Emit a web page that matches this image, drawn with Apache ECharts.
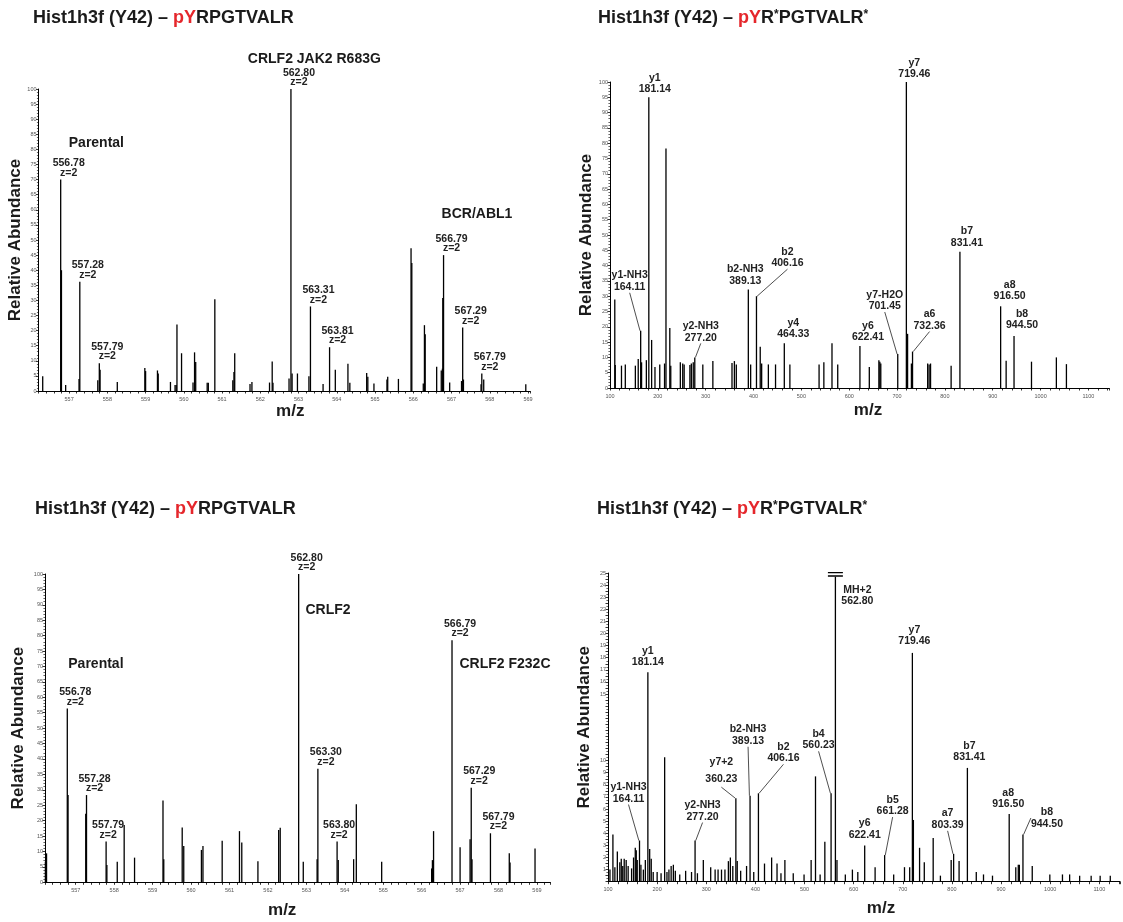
<!DOCTYPE html>
<html>
<head>
<meta charset="utf-8">
<script src="https://cdn.jsdelivr.net/npm/echarts@6/dist/echarts.min.js"></script>
<style>
  html, body { margin: 0; background: #fff; }
  #chart { width: 1123px; height: 922px; }
</style>
</head>
<body>
<div id="chart"></div>
<script>
// Four MS spectra (pYRPGTVALR precursor scans + MS2 fragment spectra)
var FONT = "'Liberation Sans', Arial, Helvetica, sans-serif";

// ---------------- top-left: precursor scan, CRLF2 JAK2 R683G vs BCR/ABL1 ----------------
var tlMz = [556.31, 556.78, 556.80, 556.91, 557.26, 557.28, 557.75, 557.79, 557.81, 558.26,
  558.98, 559.00, 559.31, 559.33, 559.65, 559.77, 559.80, 559.82, 559.94, 560.24,
  560.28, 560.31, 560.61, 560.64, 560.81, 561.28, 561.31, 561.33, 561.73, 561.78,
  562.24, 562.31, 562.33, 562.75, 562.80, 562.83, 562.97, 563.27, 563.31, 563.64,
  563.81, 563.96, 564.29, 564.34, 564.78, 564.81, 564.97, 565.31, 565.33, 565.61,
  565.94, 565.96, 566.26, 566.29, 566.31, 566.61, 566.73, 566.76, 566.77, 566.79,
  566.95, 567.26, 567.29, 567.31, 567.77, 567.79, 567.84, 568.94];
var tlAb = [4.9, 70, 40, 2, 4, 36.2, 3.6, 9.2, 7, 3,
  7.6, 6.6, 6.8, 5.8, 3, 2, 2, 22, 12.5, 2.8,
  12.8, 9.6, 2.7, 2.7, 30.4, 3.6, 6.3, 12.5, 2.3, 3,
  2.8, 9.8, 2.7, 4.1, 100, 5.8, 5.8, 4.9, 28, 2.3,
  14.5, 7, 9, 2.7, 6, 4.7, 2.5, 3.8, 4.7, 4,
  47.3, 42.4, 2.5, 21.8, 18.8, 8, 6.8, 7.4, 30.8, 45,
  2.8, 3.3, 21, 3.8, 2.2, 5.8, 3.8, 2.2];
var tlTags = [556.78, 557.28, 557.79, 562.80, 563.31, 563.81, 566.79, 567.29, 567.79];
var tlNotes = [[562.80, 100, "CRLF2 JAK2 R683G"], [556.78, 70, "Parental"], [566.79, 45, "BCR/ABL1"]];

// ---------------- bottom-left: precursor scan, CRLF2 vs CRLF2 F232C ----------------
var blMz = [556.21, 556.24, 556.78, 556.80, 557.26, 557.28, 557.79, 557.81, 558.08, 558.26,
  558.53, 559.27, 559.29, 559.77, 559.81, 560.27, 560.31, 560.81, 561.26, 561.32,
  561.74, 562.28, 562.32, 562.80, 562.92, 563.28, 563.30, 563.80, 563.83, 564.23,
  564.30, 564.96, 566.26, 566.28, 566.31, 566.79, 567.00, 567.26, 567.29, 567.31,
  567.79, 568.28, 568.30, 568.95];
var blAb = [6.7, 9.4, 56.4, 28.3, 22.2, 28.3, 13.2, 5.6, 6.7, 18.6,
  8, 26.5, 7.5, 17.8, 11.8, 10.5, 11.8, 13.5, 16.6, 12.9,
  6.8, 17, 17.7, 100, 6.7, 7.5, 36.8, 13.2, 7.2, 7.5,
  25.3, 6.7, 4.5, 7.2, 16.6, 78.5, 11.4, 14, 30.7, 7.5,
  15.9, 9.4, 6.4, 11];
var blTags = [556.78, 557.28, 557.79, 562.80, 563.30, 563.80, 566.79, 567.29, 567.79];
var blNotes = [[562.80, 100, "CRLF2"], [566.79, 78.5, "CRLF2 F232C"], [556.78, 56.4, "Parental"]];

// ---------------- top-right: MS2 of pYR*PGTVALR* ----------------
var trMz = [110, 111, 124, 132, 153, 159, 164.11, 166, 176, 181.14,
  187, 194, 204, 214, 217, 225, 227, 247, 252, 255,
  267, 270, 274, 277.20, 294, 315, 355, 360, 364, 389.13,
  394, 406.16, 414, 417, 431, 446, 464.33, 476, 537, 547,
  564, 576, 622.41, 642, 662, 664, 666, 701.45, 719.46, 722,
  730, 732.36, 764, 767, 770, 813, 831.41, 916.50, 928, 944.50,
  981, 1033, 1054];
var trAb = [28.9, 7.5, 7.3, 7.7, 7.3, 9.5, 18.7, 8.4, 9.1, 95,
  15.7, 6.9, 7.7, 8, 78.3, 19.6, 7.3, 8.4, 8, 7.7,
  7.5, 8, 8.4, 10, 7.7, 8.8, 8.2, 8.8, 7.7, 32.2,
  7.7, 30, 13.5, 8, 7.7, 7.7, 14.6, 7.7, 7.7, 8.4,
  14.6, 7.7, 13.7, 6.9, 9.1, 8.6, 8, 11.1, 100, 17.7,
  8, 11.9, 8, 7.7, 8, 7.3, 44.5, 26.7, 8.9, 17,
  8.6, 10, 7.8];
var trIons = [[164.11, "y1-NH3", "164.11"], [181.14, "y1", "181.14"], [277.20, "y2-NH3", "277.20"],
  [389.13, "b2-NH3", "389.13"], [406.16, "b2", "406.16"], [464.33, "y4", "464.33"],
  [622.41, "y6", "622.41"], [701.45, "y7-H2O", "701.45"], [719.46, "y7", "719.46"],
  [732.36, "a6", "732.36"], [831.41, "b7", "831.41"], [916.50, "a8", "916.50"],
  [944.50, "b8", "944.50"]];

// ---------------- bottom-right: MS2 with precursor still present (broken y scale) ----------------
var brMz = [104, 110, 114, 119, 124, 127, 130, 133, 137, 141,
  148, 152, 155.5, 157.5, 159.5, 164.11, 167, 172, 176, 181.14,
  184.8, 188, 192, 200, 208, 215.3, 220, 224, 228.5, 233,
  237, 246, 258, 270, 277.20, 282, 294, 309, 318, 324,
  331, 338, 345, 349, 354, 360.23, 363, 370, 382, 389.13,
  396.6, 406.16, 418.5, 433, 444, 452, 460, 477, 499, 513.4,
  522.3, 531.7, 541.3, 554, 562.80, 566, 583, 597.4, 608.4, 622.41,
  643.6, 663, 681.4, 703.4, 714, 719.46, 721.5, 734.1, 743.7, 761.8,
  776.5, 798.4, 803.39, 814.5, 831.41, 849.5, 864.2, 882.5, 916.50, 929.9,
  935, 937.2, 944.50, 963.4, 999.2, 1024.9, 1039.5, 1059.9, 1083.3, 1101.6,
  1122.2];
var brAb = [1.0, 3.9, 1.2, 2.5, 1.6, 1.9, 1.3, 1.9, 1.8, 1.3,
  1.1, 2.0, 2.8, 2.6, 1.8, 3.4, 1.4, 1.0, 1.8, 16.8,
  2.7, 1.9, 0.8, 0.8, 0.7, 10.25, 0.8, 1.0, 1.3, 1.4,
  0.9, 0.6, 0.9, 0.8, 3.4, 0.7, 1.8, 1.2, 1.0, 1.0,
  1.0, 1.0, 1.7, 2.0, 1.3, 6.9, 1.7, 0.9, 1.3, 7.1,
  0.8, 7.3, 1.5, 2.0, 1.5, 0.7, 1.8, 0.7, 0.6, 1.8,
  8.7, 0.6, 3.3, 7.3, 100, 1.8, 0.6, 1.0, 0.8, 3.0,
  1.2, 2.2, 0.6, 1.2, 1.2, 18.4, 5.1, 2.8, 1.6, 3.6,
  0.5, 1.8, 2.3, 1.7, 9.4, 0.8, 0.6, 0.5, 5.6, 1.2,
  1.4, 1.4, 3.9, 1.3, 0.6, 0.6, 0.6, 0.5, 0.5, 0.5,
  0.5];
var brIons = [[164.11, "y1-NH3", "164.11"], [181.14, "y1", "181.14"], [277.20, "y2-NH3", "277.20"],
  [360.23, "y7+2", "360.23"], [389.13, "b2-NH3", "389.13"], [406.16, "b2", "406.16"],
  [554, "b4", "560.23"], [562.80, "MH+2", "562.80"], [622.41, "y6", "622.41"],
  [663, "b5", "661.28"], [719.46, "y7", "719.46"], [803.39, "a7", "803.39"],
  [831.41, "b7", "831.41"], [916.50, "a8", "916.50"], [944.50, "b8", "944.50"]];
var brLowTicks = [1, 2, 3, 4, 5, 6, 7, 8, 9, 10];
var brHighTicks = [15, 16, 17, 18, 19, 20, 21, 22, 23, 24, 25];

// ---------------- label placement (px offsets from peak top: dx, dy, leader line, line height) ----------------
var tlLay = {};
var blLay = { "557.79": [2, -1], "563.80": [2, -1] };
var trLay = {
  "164.11": [-11, -37, 1], "181.14": [6, -1], "277.20": [6, -13, 1], "389.13": [-3, -2],
  "406.16": [31, -26, 1], "464.33": [9, -2], "622.41": [8, -2], "701.45": [-13, -41, 1],
  "719.46": [8, -1], "732.36": [17, -19, 1], "831.41": [7, -2], "916.50": [9, -3], "944.50": [8, -4]
};
var brLay = {
  "164.11": [-11, -35, 1], "181.14": [0, -3], "277.20": [7.5, -17, 1], "360.23": [-14.5, -10, 1, 16.5],
  "389.13": [-2, -48, 1], "406.16": [25, -28, 1], "554.00": [-12.5, -41, 1], "562.80": [22, 31],
  "622.41": [0, -4], "663.00": [8, -37, 1], "719.46": [2, -5], "803.39": [-6, -22, 1],
  "831.41": [2, -4], "916.50": [-1, -3], "944.50": [24, -4, 1]
};
var noteLay = {
  tl: [[23.4, -29.7], [35.7, -36], [33.4, -40.6]],
  bl: [[29.4, 35.7], [53, 24], [28.6, -44.6]]
};

// ---------------- helpers ----------------
function ident(v) { return v; }
// bottom-right y axis is broken between 10 and 15; MH+2 runs off the top
function brk(v) {
  var d = v <= 10 ? v : (v >= 15 ? v + 0.5 : 10 + (v - 10) * 1.1);
  return Math.min(d, 25.18);
}
function intLabel(v) {
  return Math.abs(v - Math.round(v)) < 1e-6 ? String(Math.round(v)) : "";
}
function hundredLabel(v) {
  return Math.abs(v % 100) < 1e-6 ? String(Math.round(v)) : "";
}
function brYLabel(d) {
  if (Math.abs(d - Math.round(d)) < 1e-6 && brLowTicks.indexOf(Math.round(d)) >= 0) return String(Math.round(d));
  var h = d - 0.5;
  if (Math.abs(h - Math.round(h)) < 1e-6 && brHighTicks.indexOf(Math.round(h)) >= 0) return String(Math.round(h));
  return "";
}
function titleText(sup) {
  return sup
    ? "{k|Hist1h3f (Y42) – }{r|pY}{k|R}{s|*}{k|PGTVALR}{s|*}"
    : "{k|Hist1h3f (Y42) – }{r|pY}{k|RPGTVALR}";
}

var grids = [], xAxes = [], yAxes = [], series = [], titles = [];

function addPanel(p) {
  var gi = grids.length;
  grids.push({ left: p.box[0], top: p.box[1], width: p.box[2], height: p.box[3],
    containLabel: false, outerBoundsMode: "none" });

  titles.push({
    left: p.titlePos[0], top: p.titlePos[1], padding: 0, text: titleText(p.sup),
    textStyle: {
      rich: {
        k: { fontFamily: FONT, fontSize: 18, fontWeight: "bold", color: "#1b1b1b" },
        r: { fontFamily: FONT, fontSize: 18, fontWeight: "bold", color: "#e5262b" },
        s: { fontFamily: FONT, fontSize: 12, fontWeight: "bold", color: "#1b1b1b", verticalAlign: "top", padding: [0, 0, 6, 0] }
      }
    }
  });

  xAxes.push({
    type: "value", gridIndex: gi, min: p.x[0], max: p.x[1], interval: p.x[2],
    name: "m/z", nameLocation: "middle", nameGap: p.xName[0],
    nameTextStyle: { fontFamily: FONT, fontSize: 17, fontWeight: "bold", color: "#1b1b1b", padding: p.xName[1] },
    axisLine: { show: true, onZero: false, lineStyle: { color: "#000", width: 1 } },
    axisTick: { show: true, length: 2.5, lineStyle: { color: "#000", width: 0.8 } },
    axisLabel: { show: true, fontFamily: FONT, fontSize: 5.5, color: "#555", margin: 5, formatter: p.xFmt },
    splitLine: { show: false }
  });

  yAxes.push({
    type: "value", gridIndex: gi, min: p.y[0], max: p.y[1], interval: p.y[2],
    name: "Relative Abundance", nameLocation: "middle", nameGap: p.yGap,
    nameTextStyle: { fontFamily: FONT, fontSize: 17, fontWeight: "bold", color: "#1b1b1b" },
    axisLine: { show: true, lineStyle: { color: "#000", width: 1 } },
    axisTick: { show: true, length: 2.5, lineStyle: { color: "#000", width: 0.8 } },
    minorTick: { show: true, splitNumber: p.y[3], length: 1.6, lineStyle: { color: "#000", width: 0.6 } },
    axisLabel: { show: true, fontFamily: FONT, fontSize: 5.5, color: "#555", margin: 2, formatter: p.yFmt },
    splitLine: { show: false }
  });

  var offs = {};
  var data = p.mz.map(function (x, k) {
    return { value: [x, p.yMap(p.ab[k])] };
  });
  p.tags.forEach(function (t) {
    var idx = p.mz.indexOf(t.mz);
    if (idx < 0) return;
    var lay = p.lay[t.mz.toFixed(2)] || [8, -1];
    offs[idx] = lay;
    data[idx].label = { show: true, formatter: t.text, lineHeight: lay[3] || p.lh };
    if (lay[2]) data[idx].labelLine = { show: true };
  });

  var marks = (p.notes || []).map(function (n, k) {
    var o = p.noteLay[k];
    return {
      coord: [n[0], p.yMap(n[1])], symbol: "circle", symbolSize: 0,
      label: { show: true, position: "inside", offset: o, formatter: n[2],
        fontFamily: FONT, fontSize: 14, fontWeight: "bold", color: "#1b1b1b" }
    };
  });
  if (p.offScale) {
    marks.push({
      coord: [p.offScale, 25.39], symbol: "path://M0 0H16V1.3H0ZM0 3.4H16V4.7H0Z",
      symbolSize: [15, 4.6], itemStyle: { color: "#000" }, label: { show: false }
    });
  }

  series.push({
    type: "bar", xAxisIndex: gi, yAxisIndex: gi, barWidth: 1.3, clip: true,
    itemStyle: { color: "#000" },
    label: { show: false, position: "top", distance: 1, fontFamily: FONT, fontSize: 10.5,
      fontWeight: "bold", color: "#222" },
    labelLine: { show: false, lineStyle: { color: "#222", width: 0.8 } },
    labelLayout: function (prm) {
      var o = offs[prm.dataIndex];
      return o ? { dx: o[0], dy: o[1] } : {};
    },
    emphasis: { disabled: true },
    data: data,
    markPoint: { silent: true, animation: false, data: marks }
  });
}

addPanel({
  box: [38.5, 89, 491.5, 302], titlePos: [33, 9], sup: false,
  x: [556.2, 569.05, 0.2], xFmt: intLabel, xName: [11, [0, 0, 0, 12]],
  y: [0, 100, 5, 5], yFmt: null, yGap: 12, yMap: ident,
  mz: tlMz, ab: tlAb, lh: 9.5, lay: tlLay,
  tags: tlTags.map(function (m) { return { mz: m, text: m.toFixed(2) + "\nz=2" }; }),
  notes: tlNotes, noteLay: noteLay.tl
});
addPanel({
  box: [610, 82, 499, 306], titlePos: [598, 9], sup: true,
  x: [100, 1143, 20], xFmt: hundredLabel, xName: [13.5, [0, 0, 0, 17]],
  y: [0, 100, 5, 5], yFmt: null, yGap: 9, yMap: ident,
  mz: trMz, ab: trAb, lh: 11.5, lay: trLay,
  tags: trIons.map(function (t) { return { mz: t[0], text: t[1] + "\n" + t[2] }; })
});
addPanel({
  box: [45, 574, 505.4, 308.3], titlePos: [35, 500], sup: false,
  x: [556.2, 569.35, 0.2], xFmt: intLabel, xName: [20, [0, 31, 0, 0]],
  y: [0, 100, 5, 5], yFmt: null, yGap: 18.5, yMap: ident,
  mz: blMz, ab: blAb, lh: 9.5, lay: blLay,
  tags: blTags.map(function (m) { return { mz: m, text: m.toFixed(2) + "\nz=2" }; }),
  notes: blNotes, noteLay: noteLay.bl
});
addPanel({
  box: [608, 573, 512, 308.7], titlePos: [597, 500], sup: true,
  x: [100, 1142, 20], xFmt: hundredLabel, xName: [17.8, [0, 0, 0, 34]],
  y: [0, 25.5, 0.5, 2], yFmt: brYLabel, yGap: 15.5, yMap: brk,
  mz: brMz, ab: brAb, lh: 11.5, lay: brLay,
  tags: brIons.map(function (t) { return { mz: t[0], text: t[1] + "\n" + t[2] }; }),
  offScale: 562.80
});

var chart = echarts.init(document.getElementById("chart"), null, { renderer: "canvas" });
chart.setOption({
  animation: false,
  backgroundColor: "#fff",
  textStyle: { fontFamily: FONT },
  title: titles,
  grid: grids,
  xAxis: xAxes,
  yAxis: yAxes,
  series: series
});
</script>
</body>
</html>
